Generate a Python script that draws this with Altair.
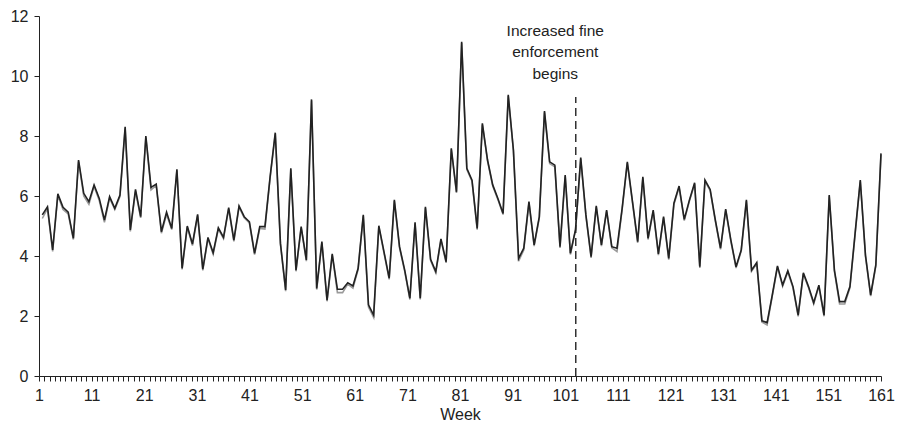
import altair as alt
import pandas as pd

# Weekly values (black series)
black = [5.37, 5.64, 4.2, 6.07, 5.62, 5.46, 4.59, 7.2, 6.09, 5.81,
         6.37, 5.92, 5.2, 5.98, 5.59, 6.03, 8.31, 4.87, 6.22, 5.31,
         8.0, 6.29, 6.4, 4.81, 5.46, 4.92, 6.89, 3.59, 5.0, 4.4,
         5.39, 3.56, 4.62, 4.11, 4.94, 4.62, 5.61, 4.53, 5.67, 5.31,
         5.14, 4.09, 4.98, 4.98, 6.64, 8.11, 4.42, 2.87, 6.92, 3.53,
         4.98, 3.87, 9.22, 2.92, 4.48, 2.53, 4.07, 2.89, 2.89, 3.11,
         3.0, 3.59, 5.37, 2.37, 2.03, 5.01, 4.14, 3.26, 5.87, 4.31,
         3.53, 2.59, 5.12, 2.59, 5.64, 3.89, 3.48, 4.57, 3.81, 7.59,
         6.14, 11.14, 6.92, 6.53, 4.92, 8.42, 7.2, 6.37, 5.92, 5.42,
         9.37, 7.53, 3.92, 4.26, 5.81, 4.37, 5.31, 8.83, 7.14, 7.03,
         4.31, 6.7, 4.09, 4.89, 7.28, 5.37, 3.98, 5.67, 4.37, 5.53,
         4.31, 4.26, 5.59, 7.14, 5.81, 4.48, 6.64, 4.59, 5.53, 4.07,
         5.31, 3.92, 5.76, 6.33, 5.22, 5.87, 6.44, 3.64, 6.53, 6.22,
         5.2, 4.26, 5.56, 4.53, 3.64, 4.2, 5.87, 3.53, 3.78, 1.84,
         1.78, 2.7, 3.67, 3.03, 3.51, 2.98, 2.03, 3.44, 2.98, 2.44,
         3.03, 2.03, 6.03, 3.53, 2.48, 2.48, 2.98, 4.76, 6.53, 4.03,
         2.7, 3.7, 7.42]

# Second (gray) series, almost identical, slightly lower in places
gray = [5.25, 5.58, 4.15, 6.02, 5.55, 5.4, 4.55, 7.15, 6.0, 5.72,
        6.32, 5.85, 5.12, 5.93, 5.55, 5.98, 8.25, 4.82, 6.15, 5.27,
        7.95, 6.2, 6.35, 4.76, 5.38, 4.88, 6.85, 3.55, 4.96, 4.35,
        5.35, 3.52, 4.58, 4.06, 4.9, 4.58, 5.57, 4.49, 5.63, 5.27,
        5.1, 4.05, 4.92, 4.9, 6.6, 8.07, 4.38, 2.83, 6.88, 3.49,
        4.94, 3.83, 9.18, 2.88, 4.44, 2.49, 4.03, 2.78, 2.78, 3.06,
        2.93, 3.55, 5.33, 2.3, 1.95, 4.97, 4.1, 3.22, 5.83, 4.27,
        3.49, 2.55, 5.08, 2.55, 5.6, 3.85, 3.44, 4.53, 3.77, 7.55,
        6.1, 11.1, 6.88, 6.49, 4.88, 8.38, 7.16, 6.33, 5.88, 5.38,
        9.33, 7.49, 3.83, 4.2, 5.77, 4.33, 5.27, 8.79, 7.08, 6.97,
        4.27, 6.66, 4.05, 4.85, 7.24, 5.33, 3.94, 5.63, 4.33, 5.49,
        4.27, 4.15, 5.55, 7.1, 5.77, 4.44, 6.6, 4.55, 5.49, 4.03,
        5.27, 3.88, 5.72, 6.29, 5.18, 5.83, 6.4, 3.6, 6.49, 6.18,
        5.16, 4.22, 5.52, 4.49, 3.6, 4.16, 5.83, 3.49, 3.74, 1.8,
        1.7, 2.66, 3.63, 2.99, 3.47, 2.94, 1.99, 3.4, 2.94, 2.4,
        2.99, 1.99, 5.99, 3.49, 2.4, 2.4, 2.94, 4.72, 6.49, 3.99,
        2.66, 3.66, 7.38]

idx = list(range(1, len(black) + 1))

week_ticks = list(range(1, 162))
y_ticks = [0, 2, 4, 6, 8, 10, 12]

event_week = [103]
event_top = [9.3]
annotation = ["Increased fine\nenforcement\nbegins"]
annotation_y = [11.75]

FONT = "Liberation Sans"
INK = "#222222"

df = pd.DataFrame({"idx": idx, "black": black, "gray": gray})
ev = pd.DataFrame({"week": event_week, "top": event_top, "zero": [0],
                   "label": annotation, "ly": annotation_y})

yscale = alt.Scale(domain=[0, 12], nice=False, zero=True)
yaxis = alt.Axis(values=y_ticks, grid=False, tickSize=5, labelPadding=6,
                 labelFontSize=16, labelFont=FONT, labelColor=INK,
                 domainColor=INK, tickColor=INK, title=None)

xline = alt.X("idx:Q", scale=alt.Scale(domain=[0.36, 163], nice=False, zero=False), axis=None)

gray_line = alt.Chart(df).mark_line(color="#9a9a9a", strokeWidth=1.6).encode(
    x=xline,
    y=alt.Y("gray:Q", scale=yscale, axis=yaxis),
)
black_line = alt.Chart(df).mark_line(color=INK, strokeWidth=1.6).encode(
    x=xline,
    y=alt.Y("black:Q", scale=yscale, axis=yaxis),
)

week_scale = alt.Scale(domain=[1, 161], nice=False, zero=False)

xweek = alt.X(
    "week:Q",
    scale=week_scale,
    axis=alt.Axis(values=week_ticks, grid=False, tickSize=5, labelPadding=6,
                  labelExpr="(datum.value - 1) % 10 == 0 ? datum.label : ''",
                  labelOverlap=False, labelFlush=False, labelBound=False,
                  labelFontSize=16, labelFont=FONT, labelColor=INK,
                  domainColor=INK, tickColor=INK,
                  title="Week", titleFont=FONT, titleFontSize=16,
                  titleFontWeight="normal", titleColor=INK, titlePadding=3),
)

rule = alt.Chart(ev).mark_rule(color=INK, strokeWidth=1.4, strokeDash=[8, 5]).encode(
    x=xweek,
    y=alt.Y("zero:Q", scale=yscale, axis=yaxis),
    y2="top:Q",
)

text = alt.Chart(ev).mark_text(font=FONT, fontSize=15.5, color=INK, align="center",
                                baseline="top", lineBreak="\n", lineHeight=21.5,
                                dx=-20.5).encode(
    x=alt.X("week:Q", scale=week_scale, axis=None),
    y=alt.Y("ly:Q", scale=yscale, axis=yaxis),
    text="label:N",
)

chart = alt.layer(gray_line, black_line, rule, text).resolve_scale(
    x="independent"
).properties(
    width=842, height=360,
    autosize=alt.AutoSizeParams(type="none"),
    padding={"left": 31, "top": 8, "right": 14, "bottom": 45},
).configure_view(stroke=None)

chart.save("out.html", embed_options={"renderer": "svg", "actions": False})
